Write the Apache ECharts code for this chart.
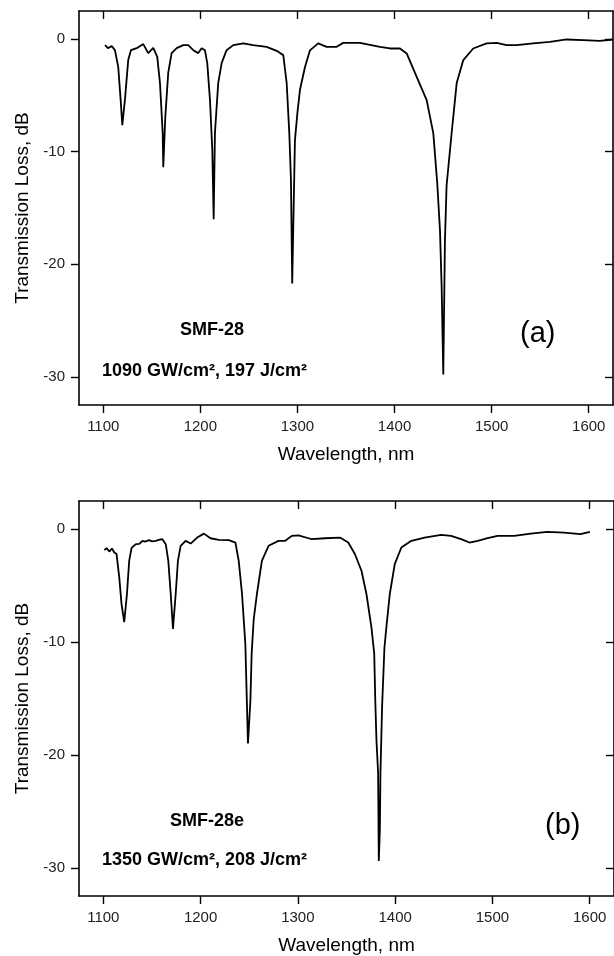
<!DOCTYPE html>
<html>
<head>
<meta charset="utf-8">
<script src="https://cdn.jsdelivr.net/npm/echarts@6/dist/echarts.min.js"></script>
<style>html,body{margin:0;padding:0;background:#fff}#c{width:614px;height:956px}</style>
</head>
<body>
<div id="c"></div>
<script>
// Panel (a) SMF-28
const waveA = [1101.8,1104.8,1108.7,1112,1115.4,1117.9,1119.6,1122.3,1125.7,1128.5,1134.4,1141.2,1146.3,1151.5,1155.6,1158.4,1161.2,1161.8,1163.9,1166.9,1170.4,1175.6,1182.4,1187.5,1192.7,1197.8,1201.3,1204.7,1207.1,1209.9,1212.3,1213.7,1215,1218.4,1221.9,1227,1233.9,1244.2,1254.2,1268.3,1278.6,1285.4,1288.9,1291.6,1293.3,1294.6,1297.4,1300,1302.6,1307.7,1312.8,1321.4,1330.1,1340.4,1347.2,1364.4,1385,1395.3,1405.6,1412.5,1422.8,1433.1,1439.9,1444,1446.8,1448.5,1450.2,1451.9,1453.6,1458.8,1464,1470.8,1481,1494.8,1505.2,1515.4,1525.7,1542.8,1560,1577.2,1594.3,1611.5,1625];
const lossA = [-0.53,-0.8,-0.62,-0.98,-2.46,-5.4,-7.64,-5.4,-1.86,-0.98,-0.8,-0.44,-1.24,-0.77,-1.57,-3.9,-8.35,-11.37,-6.9,-3.0,-1.24,-0.8,-0.53,-0.53,-0.98,-1.24,-0.8,-0.98,-2.13,-5.4,-9.86,-16.0,-8.35,-3.9,-2.13,-0.98,-0.53,-0.38,-0.53,-0.68,-1.04,-1.42,-3.9,-8.35,-12.5,-21.7,-9.0,-6.5,-4.5,-2.5,-1.0,-0.38,-0.68,-0.68,-0.33,-0.33,-0.68,-0.83,-0.83,-1.27,-3.35,-5.42,-8.35,-12.8,-17,-22,-29.8,-17.9,-13,-8.35,-3.9,-1.86,-0.83,-0.38,-0.33,-0.53,-0.53,-0.38,-0.24,-0.03,-0.09,-0.15,-0.03];

// Panel (b) SMF-28e
const waveB = [1101,1103.4,1106.1,1108.9,1111.3,1113.6,1116.4,1118.7,1121.5,1124.3,1126.6,1129,1131,1133.5,1135,1137,1140.2,1143,1147.1,1150,1153.9,1157,1160.7,1164.2,1166.8,1169.3,1171.6,1174.4,1176.7,1179.5,1184.6,1189.8,1196.5,1203.4,1210.2,1218.7,1229,1235.8,1239.2,1242.6,1246,1248.7,1251.2,1252.5,1254.6,1257.9,1263,1269.9,1280.1,1287,1293.8,1300.6,1310.9,1314.2,1327.9,1343.3,1351.8,1358.6,1365.4,1370.5,1375.6,1378.5,1379.6,1380.8,1382.5,1383.2,1384.3,1384.9,1386.6,1389,1391,1394.5,1399.6,1406.4,1416.6,1430.3,1447.3,1457.5,1467.8,1476.4,1484.9,1495.1,1505.3,1522.4,1539.4,1556.5,1573.6,1590.6,1600.2];
const lossB = [-1.85,-1.68,-1.98,-1.71,-2.06,-2.2,-4.27,-6.62,-8.24,-5.74,-2.8,-1.68,-1.5,-1.33,-1.2,-1.3,-1.03,-1.1,-0.97,-1.08,-1.03,-0.95,-0.88,-1.33,-2.8,-5.74,-8.83,-5.74,-2.8,-1.47,-1.03,-1.27,-0.74,-0.39,-0.8,-0.94,-0.97,-1.18,-2.8,-5.74,-10.15,-18.98,-15.2,-11,-8.0,-5.74,-2.8,-1.47,-1.03,-1.03,-0.59,-0.55,-0.8,-0.88,-0.8,-0.74,-1.18,-2.2,-3.68,-5.74,-8.68,-11,-15.2,-18.7,-21.6,-29.4,-26.6,-21.6,-15.7,-10.5,-8.68,-5.74,-3.09,-1.62,-1.03,-0.74,-0.5,-0.59,-0.88,-1.18,-1.03,-0.8,-0.59,-0.59,-0.39,-0.24,-0.3,-0.44,-0.24];

const xTicks = [1100,1200,1300,1400,1500,1600];
const yTicks = [0,-10,-20,-30];
const xName = 'Wavelength, nm';
const yName = 'Transmission Loss, dB';

const FONT = '"Liberation Sans", Arial, sans-serif';
const lineStyle = {color:'#000', width:1.6};
const plain = v => String(v);

function xAxes(gi) {
  return [
    {type:'value', gridIndex:gi, min:1075, max:1625, position:'bottom',
     axisLine:{lineStyle:lineStyle, onZero:false},
     axisTick:{show:true, length:8, inside:false, lineStyle:{color:'#000',width:1.4}, customValues:xTicks},
     axisLabel:{customValues:xTicks, formatter:plain, fontFamily:FONT, fontSize:15, color:'#222', margin:14},
     splitLine:{show:false},
     name:xName, nameLocation:'middle', nameGap: 40,
     nameTextStyle:{fontFamily:FONT, fontSize:19, color:'#000'}},
    {type:'value', gridIndex:gi, min:1075, max:1625, position:'top',
     axisLine:{lineStyle:lineStyle, onZero:false},
     axisTick:{show:true, length:8, inside:true, lineStyle:{color:'#000',width:1.4}, customValues:xTicks},
     axisLabel:{show:false}, splitLine:{show:false}}
  ];
}
function yAxes(gi) {
  return [
    {type:'value', gridIndex:gi, min:-32.5, max:2.5, position:'left',
     axisLine:{lineStyle:lineStyle, onZero:false},
     axisTick:{show:true, length:8, inside:false, lineStyle:{color:'#000',width:1.4}, customValues:yTicks},
     axisLabel:{customValues:yTicks, formatter:plain, fontFamily:FONT, fontSize:15, color:'#222', margin:14},
     splitLine:{show:false},
     name:yName, nameLocation:'middle', nameGap:47, nameRotate:90,
     nameTextStyle:{fontFamily:FONT, fontSize:19, color:'#000'}},
    {type:'value', gridIndex:gi, min:-32.5, max:2.5, position:'right',
     axisLine:{lineStyle:lineStyle, onZero:false},
     axisTick:{show:true, length:8, inside:true, lineStyle:{color:'#000',width:1.4}, customValues:yTicks},
     axisLabel:{show:false}, splitLine:{show:false}}
  ];
}

const pairs = (xs, ys) => xs.map((x,i)=>[x, ys[i]]);

const chart = echarts.init(document.getElementById('c'), null, {renderer:'canvas'});
chart.setOption({
  animation:false,
  backgroundColor:'#fff',
  grid:[
    {left:79, top:11, width:534, height:394},
    {left:79, top:501, width:537, height:396.5}
  ],
  xAxis:[...xAxes(0), ...xAxes(1)],
  yAxis:[...yAxes(0), ...yAxes(1)],
  series:[
    {type:'line', xAxisIndex:0, yAxisIndex:0, data:pairs(waveA, lossA), showSymbol:false,
     lineStyle:{color:'#000', width:1.8}},
    {type:'line', xAxisIndex:2, yAxisIndex:2, data:pairs(waveB, lossB), showSymbol:false,
     lineStyle:{color:'#000', width:1.8}}
  ],
  graphic:[
    {type:'text', left:180, top:321, style:{text:'SMF-28', font:'bold 18px '+FONT, fill:'#000'}},
    {type:'text', left:102, top:362, style:{text:'1090 GW/cm², 197 J/cm²', font:'bold 18px '+FONT, fill:'#000'}},
    {type:'text', left:520, top:319, style:{text:'(a)', font:'29px '+FONT, fill:'#000'}},
    {type:'text', left:170, top:812, style:{text:'SMF-28e', font:'bold 18px '+FONT, fill:'#000'}},
    {type:'text', left:102, top:851, style:{text:'1350 GW/cm², 208 J/cm²', font:'bold 18px '+FONT, fill:'#000'}},
    {type:'text', left:545, top:811, style:{text:'(b)', font:'29px '+FONT, fill:'#000'}}
  ]
});
</script>
</body>
</html>
